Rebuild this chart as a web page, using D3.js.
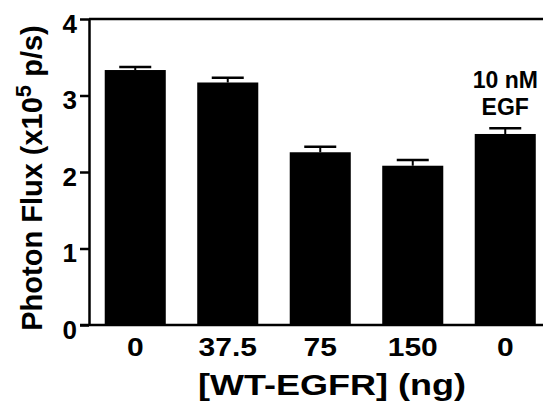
<!DOCTYPE html>
<html>
<head>
<meta charset="utf-8">
<script src="https://cdn.jsdelivr.net/npm/d3@7"></script>
<style>
  body { margin: 0; background: #fff; }
  svg { display: block; }
  text { font-family: "Liberation Sans", Arial, sans-serif; font-weight: bold; fill: #000; }
</style>
</head>
<body>
<script>
// data
let doses = ["0", "37.5", "75", "150", "0 "];   // last one is the EGF control
let flux = [3.333, 3.17, 2.258, 2.082, 2.497];
let sem = [0.04, 0.063, 0.072, 0.075, 0.074];
let yTicks = [0, 1, 2, 3, 4];

// the plot area in page pixels
let plotLeft = 89, plotRight = 551.5, plotTop = 19, plotBottom = 325;
let width = 543, height = 402;

let x = d3.scaleBand()
  .domain(doses)
  .range([plotLeft, plotRight])
  .paddingInner(0.34)
  .paddingOuter(0.17);

let y = d3.scaleLinear().domain([0, 4]).range([plotBottom, plotTop]);

let svg = d3.select("body").append("svg")
  .attr("width", width)
  .attr("height", height);

// bars
svg.selectAll("rect.bar")
  .data(flux)
  .enter().append("rect")
  .attr("class", "bar")
  .attr("x", (d, i) => x(doses[i]))
  .attr("y", d => y(d))
  .attr("width", x.bandwidth())
  .attr("height", d => y(0) - y(d))
  .attr("fill", "#000");

// error bars (only the upper half shows above the bar)
let err = svg.selectAll("g.err")
  .data(flux)
  .enter().append("g")
  .attr("class", "err")
  .attr("transform", (d, i) => "translate(" + (x(doses[i]) + x.bandwidth() / 2) + ",0)");

err.append("line")
  .attr("x1", 0).attr("x2", 0)
  .attr("y1", d => y(d))
  .attr("y2", (d, i) => y(d + sem[i]))
  .attr("stroke", "#000").attr("stroke-width", 2);

err.append("line")
  .attr("x1", -16).attr("x2", 16)
  .attr("y1", (d, i) => y(d + sem[i]))
  .attr("y2", (d, i) => y(d + sem[i]))
  .attr("stroke", "#000").attr("stroke-width", 2.5);

// top frame line at y = 4
svg.append("line")
  .attr("x1", plotLeft).attr("x2", width)
  .attr("y1", y(4)).attr("y2", y(4))
  .attr("stroke", "#000").attr("stroke-width", 2.5);

// y axis
let yAxis = svg.append("g")
  .attr("transform", "translate(" + plotLeft + ",0)")
  .call(d3.axisLeft(y).tickValues(yTicks).tickFormat(d3.format("d")).tickSize(9).tickSizeOuter(0).tickPadding(3));

yAxis.select(".domain").attr("stroke-width", 2.5);
yAxis.selectAll(".tick line").attr("stroke-width", 2.5);
yAxis.selectAll(".tick text")
  .attr("dy", "0.5em")
  .style("font-size", "26px");

// x axis line, running from the 0 tick out to the edge
svg.append("line")
  .attr("x1", plotLeft - 9).attr("x2", width)
  .attr("y1", y(0)).attr("y2", y(0))
  .attr("stroke", "#000").attr("stroke-width", 2.5);

// x tick labels (the figure's lettering is a little wide)
let xAxis = svg.append("g")
  .attr("transform", "translate(0," + y(0) + ")")
  .call(d3.axisBottom(x).tickSize(0).tickFormat(d => d.trim()));

xAxis.select(".domain").remove();
xAxis.selectAll(".tick text")
  .attr("y", null)
  .attr("dy", null)
  .attr("transform", "translate(0,31) scale(1.2,1)")
  .style("font-size", "25px");

// x title
svg.append("text")
  .attr("transform", "translate(332,395) scale(1.2,1)")
  .attr("text-anchor", "middle")
  .style("font-size", "30px")
  .text("[WT-EGFR] (ng)");

// y title with superscript
let ytitle = svg.append("text")
  .attr("transform", "translate(42,178) rotate(-90)")
  .attr("text-anchor", "middle")
  .style("font-size", "29px");
ytitle.append("tspan").text("Photon Flux (x10");
ytitle.append("tspan").attr("dy", -11).style("font-size", "22px").text("5");
ytitle.append("tspan").attr("dy", 11).text(" p/s)");

// EGF annotation over the last bar
let cx = x(doses[4]) + x.bandwidth() / 2;
svg.append("text")
  .attr("x", cx).attr("y", 88)
  .attr("text-anchor", "middle")
  .style("font-size", "23px")
  .text("10 nM");
svg.append("text")
  .attr("x", cx).attr("y", 115)
  .attr("text-anchor", "middle")
  .style("font-size", "23px")
  .text("EGF");
</script>
</body>
</html>
